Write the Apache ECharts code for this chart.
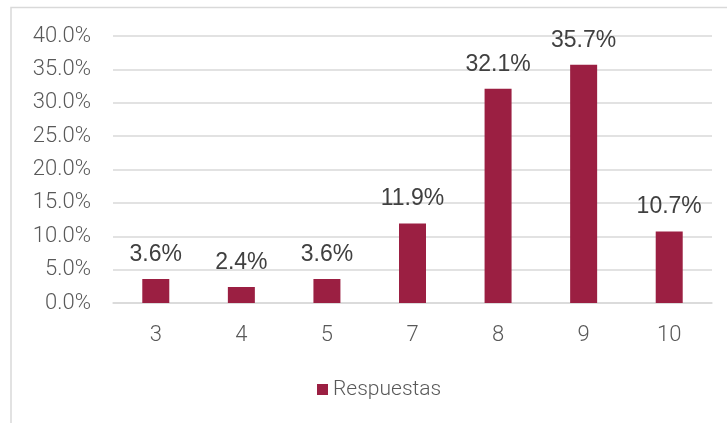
<!DOCTYPE html>
<html>
<head>
<meta charset="utf-8">
<script src="https://cdn.jsdelivr.net/npm/echarts@6/dist/echarts.min.js"></script>
<style>
  html, body { margin: 0; padding: 0; background: #fff; }
  #chart { width: 727px; height: 423px; }
</style>
</head>
<body>
<div id="chart"></div>
<script>
// datos
const categorias = ['3', '4', '5', '7', '8', '9', '10'];
const respuestas = [3.6, 2.4, 3.6, 11.9, 32.1, 35.7, 10.7];
const nombreSerie = 'Respuestas';

const chart = echarts.init(document.getElementById('chart'));

const option = {
  animation: false,
  textStyle: { fontFamily: 'Roboto' },
  graphic: [
    // marco del area del grafico
    {
      type: 'polyline',
      shape: { points: [[11, 423], [11, 7.5], [727, 7.5]] },
      style: { stroke: '#d9d9d9', lineWidth: 1.5, fill: null }
    }
  ],
  grid: { left: 113, right: 15, top: 36, bottom: 120 },
  legend: {
    data: [nombreSerie],
    top: 374,
    left: 312,
    icon: 'rect',
    itemWidth: 11,
    itemHeight: 11,
    itemGap: 8,
    textStyle: { fontSize: 21, color: '#595959', fontFamily: 'Roboto', fontWeight: 300 }
  },
  xAxis: {
    type: 'category',
    data: categorias,
    axisLine: { lineStyle: { color: '#d9d9d9', width: 1.5 } },
    axisTick: { show: false },
    axisLabel: { color: '#595959', fontSize: 22, fontWeight: 300, margin: 21 }
  },
  yAxis: {
    type: 'value',
    min: 0,
    max: 40,
    interval: 5,
    axisLine: { show: false },
    axisTick: { show: false },
    splitLine: { lineStyle: { color: '#d9d9d9', width: 1.5 } },
    axisLabel: {
      color: '#595959',
      fontSize: 22,
      fontWeight: 300,
      margin: 22,
      formatter: v => v.toFixed(1) + '%'
    }
  },
  series: [
    {
      name: nombreSerie,
      type: 'bar',
      data: respuestas,
      barWidth: 27,
      itemStyle: { color: '#9b1f42' },
      label: {
        show: true,
        position: 'top',
        distance: 13,
        color: '#404040',
        fontSize: 23,
        fontFamily: 'Liberation Sans',
        formatter: p => p.value.toFixed(1) + '%'
      }
    }
  ]
};

chart.setOption(option);
</script>
</body>
</html>
